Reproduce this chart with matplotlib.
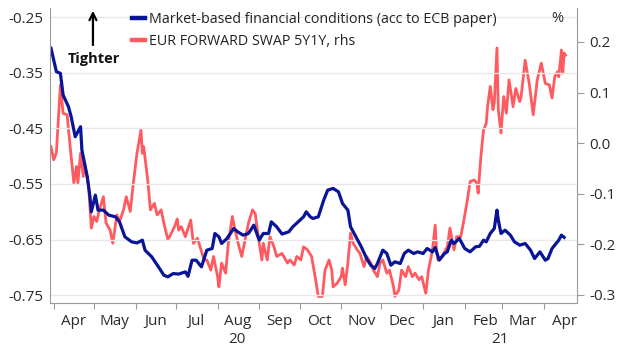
import pandas as pd
import matplotlib
matplotlib.use('Agg')
import matplotlib.pyplot as plt
import matplotlib.dates as mdates
from matplotlib.ticker import NullFormatter
from matplotlib.transforms import blended_transform_factory

plt.rcParams['font.family'] = ['Open Sans', 'DejaVu Sans']
plt.rcParams['axes.unicode_minus'] = False

# Market-based financial conditions (left axis)
fci_dates = ['2020-03-30', '2020-04-03', '2020-04-06', '2020-04-08', '2020-04-12', '2020-04-14', '2020-04-17', '2020-04-21', '2020-04-22', '2020-04-26',
             '2020-04-28', '2020-04-29', '2020-05-02', '2020-05-04', '2020-05-08', '2020-05-12', '2020-05-17', '2020-05-20', '2020-05-24', '2020-05-29',
             '2020-06-02', '2020-06-06', '2020-06-08', '2020-06-13', '2020-06-18', '2020-06-22', '2020-06-25', '2020-06-29', '2020-07-03', '2020-07-08',
             '2020-07-10', '2020-07-13', '2020-07-16', '2020-07-20', '2020-07-24', '2020-07-28', '2020-07-30', '2020-08-02', '2020-08-04', '2020-08-08',
             '2020-08-13', '2020-08-16', '2020-08-20', '2020-08-24', '2020-08-28', '2020-09-01', '2020-09-04', '2020-09-08', '2020-09-10', '2020-09-14',
             '2020-09-18', '2020-09-23', '2020-09-26', '2020-09-30', '2020-10-04', '2020-10-06', '2020-10-09', '2020-10-11', '2020-10-15', '2020-10-19',
             '2020-10-22', '2020-10-26', '2020-10-30', '2020-11-02', '2020-11-06', '2020-11-08', '2020-11-12', '2020-11-16', '2020-11-20', '2020-11-23',
             '2020-11-26', '2020-11-28', '2020-12-02', '2020-12-05', '2020-12-08', '2020-12-11', '2020-12-15', '2020-12-18', '2020-12-21', '2020-12-25',
             '2020-12-28', '2021-01-01', '2021-01-04', '2021-01-08', '2021-01-10', '2021-01-13', '2021-01-17', '2021-01-19', '2021-01-22', '2021-01-24',
             '2021-01-28', '2021-02-01', '2021-02-05', '2021-02-09', '2021-02-12', '2021-02-15', '2021-02-17', '2021-02-20', '2021-02-23', '2021-02-25',
             '2021-02-26', '2021-02-28', '2021-03-03', '2021-03-07', '2021-03-10', '2021-03-14', '2021-03-18', '2021-03-22', '2021-03-25', '2021-03-29',
             '2021-04-02', '2021-04-04', '2021-04-07', '2021-04-09', '2021-04-12', '2021-04-14', '2021-04-16']
fci_vals = [-0.306, -0.348, -0.351, -0.390, -0.411, -0.429, -0.465, -0.447, -0.489, -0.537,
            -0.573, -0.600, -0.570, -0.597, -0.597, -0.606, -0.609, -0.618, -0.645, -0.654,
            -0.656, -0.651, -0.669, -0.681, -0.699, -0.714, -0.717, -0.711, -0.712, -0.708,
            -0.716, -0.687, -0.687, -0.699, -0.669, -0.666, -0.639, -0.645, -0.657, -0.648,
            -0.630, -0.636, -0.642, -0.639, -0.624, -0.651, -0.639, -0.639, -0.618, -0.627,
            -0.640, -0.636, -0.627, -0.618, -0.609, -0.600, -0.609, -0.612, -0.609, -0.579,
            -0.561, -0.558, -0.564, -0.585, -0.597, -0.627, -0.645, -0.663, -0.684, -0.696,
            -0.702, -0.693, -0.669, -0.675, -0.696, -0.690, -0.693, -0.675, -0.669, -0.675,
            -0.672, -0.675, -0.666, -0.672, -0.664, -0.687, -0.675, -0.672, -0.651, -0.657,
            -0.648, -0.666, -0.672, -0.663, -0.662, -0.651, -0.654, -0.639, -0.630, -0.597,
            -0.615, -0.639, -0.633, -0.642, -0.654, -0.660, -0.657, -0.669, -0.684, -0.672,
            -0.687, -0.684, -0.666, -0.660, -0.651, -0.642, -0.646]

# EUR forward swap 5y1y (right axis, %)
swap_dates = ['2020-03-30', '2020-04-01', '2020-04-03', '2020-04-06', '2020-04-08', '2020-04-11', '2020-04-13', '2020-04-16', '2020-04-18', '2020-04-19',
              '2020-04-21', '2020-04-23', '2020-04-24', '2020-04-27', '2020-04-29', '2020-05-01', '2020-05-03', '2020-05-05', '2020-05-08', '2020-05-10',
              '2020-05-13', '2020-05-15', '2020-05-18', '2020-05-20', '2020-05-23', '2020-05-25', '2020-05-28', '2020-05-30', '2020-06-02', '2020-06-05',
              '2020-06-06', '2020-06-07', '2020-06-10', '2020-06-12', '2020-06-15', '2020-06-17', '2020-06-20', '2020-06-22', '2020-06-25', '2020-06-27',
              '2020-06-30', '2020-07-02', '2020-07-03', '2020-07-05', '2020-07-08', '2020-07-12', '2020-07-14', '2020-07-17', '2020-07-19', '2020-07-22',
              '2020-07-24', '2020-07-27', '2020-07-29', '2020-08-01', '2020-08-02', '2020-08-04', '2020-08-07', '2020-08-09', '2020-08-12', '2020-08-14',
              '2020-08-17', '2020-08-19', '2020-08-22', '2020-08-24', '2020-08-27', '2020-08-29', '2020-09-01', '2020-09-03', '2020-09-04', '2020-09-07',
              '2020-09-09', '2020-09-12', '2020-09-14', '2020-09-18', '2020-09-22', '2020-09-24', '2020-09-27', '2020-09-29', '2020-10-02', '2020-10-04',
              '2020-10-07', '2020-10-10', '2020-10-13', '2020-10-15', '2020-10-18', '2020-10-20', '2020-10-23', '2020-10-25', '2020-10-26', '2020-10-29',
              '2020-11-01', '2020-11-02', '2020-11-04', '2020-11-06', '2020-11-08', '2020-11-10', '2020-11-13', '2020-11-15', '2020-11-18', '2020-11-20',
              '2020-11-23', '2020-11-25', '2020-11-28', '2020-11-30', '2020-12-02', '2020-12-05', '2020-12-07', '2020-12-10', '2020-12-11', '2020-12-14',
              '2020-12-16', '2020-12-19', '2020-12-21', '2020-12-24', '2020-12-26', '2020-12-29', '2020-12-31', '2021-01-03', '2021-01-05', '2021-01-08',
              '2021-01-10', '2021-01-11', '2021-01-12', '2021-01-15', '2021-01-19', '2021-01-21', '2021-01-24', '2021-01-26', '2021-01-29', '2021-01-31',
              '2021-02-03', '2021-02-05', '2021-02-08', '2021-02-10', '2021-02-11', '2021-02-13', '2021-02-15', '2021-02-17', '2021-02-18', '2021-02-20',
              '2021-02-22', '2021-02-23', '2021-02-25', '2021-02-26', '2021-02-28', '2021-03-02', '2021-03-04', '2021-03-06', '2021-03-09', '2021-03-11',
              '2021-03-14', '2021-03-15', '2021-03-18', '2021-03-21', '2021-03-24', '2021-03-27', '2021-03-30', '2021-04-02', '2021-04-05', '2021-04-07',
              '2021-04-09', '2021-04-11', '2021-04-12', '2021-04-14', '2021-04-15', '2021-04-16', '2021-04-17']
swap_vals = [-0.007, -0.033, -0.019, 0.115, 0.059, 0.056, 0.000, -0.079, -0.046, -0.079,
             -0.020, -0.066, -0.040, -0.086, -0.168, -0.145, -0.155, -0.132, -0.106, -0.158,
             -0.172, -0.198, -0.142, -0.155, -0.132, -0.106, -0.135, -0.086, -0.020, 0.026,
             -0.020, -0.007, -0.073, -0.132, -0.119, -0.142, -0.132, -0.158, -0.191, -0.181,
             -0.165, -0.150, -0.172, -0.165, -0.185, -0.152, -0.198, -0.188, -0.205, -0.231,
             -0.231, -0.251, -0.224, -0.264, -0.284, -0.237, -0.257, -0.198, -0.145, -0.172,
             -0.205, -0.224, -0.185, -0.158, -0.132, -0.139, -0.198, -0.231, -0.198, -0.231,
             -0.185, -0.205, -0.224, -0.218, -0.237, -0.231, -0.241, -0.224, -0.231, -0.205,
             -0.211, -0.224, -0.270, -0.303, -0.303, -0.251, -0.231, -0.251, -0.284, -0.277,
             -0.264, -0.247, -0.280, -0.237, -0.178, -0.198, -0.211, -0.218, -0.244, -0.224,
             -0.237, -0.251, -0.264, -0.237, -0.231, -0.257, -0.251, -0.284, -0.303, -0.290,
             -0.251, -0.264, -0.244, -0.264, -0.257, -0.270, -0.264, -0.297, -0.251, -0.211,
             -0.162, -0.211, -0.231, -0.224, -0.205, -0.168, -0.211, -0.185, -0.185, -0.158,
             -0.112, -0.076, -0.073, -0.079, -0.099, -0.027, 0.026, 0.039, 0.072, 0.112,
             0.066, 0.079, 0.188, 0.066, 0.020, 0.092, 0.059, 0.125, 0.072, 0.108,
             0.082, 0.092, 0.164, 0.118, 0.056, 0.125, 0.158, 0.118, 0.115, 0.089,
             0.131, 0.141, 0.131, 0.184, 0.138, 0.178, 0.174]

left_ticks = [-0.75, -0.65, -0.55, -0.45, -0.35, -0.25]
right_ticks = [-0.3, -0.2, -0.1, 0.0, 0.1, 0.2]
labels = ['Market-based financial conditions (acc to ECB paper)', 'EUR FORWARD SWAP 5Y1Y, rhs']

blue = '#0a1496'
red = '#ff5a60'
txt = '#2b2b2b'
spine = '#9a9a9a'

fig = plt.figure(figsize=(6.2, 3.51), dpi=100)
ax = fig.add_axes([50 / 620, 1 - 303 / 351, 527 / 620, 295 / 351])
ax2 = ax.twinx()
ax.set_zorder(ax2.get_zorder() + 1)
ax.patch.set_visible(False)

l2, = ax2.plot(pd.to_datetime(swap_dates), swap_vals, color=red, lw=2.0)
l1, = ax.plot(pd.to_datetime(fci_dates), fci_vals, color=blue, lw=2.3)

x0 = pd.Timestamp('2020-03-29 06:00')
x1 = pd.Timestamp('2021-04-25 14:00')
ax.set_xlim(x0, x1)
ax.set_ylim(-0.764, -0.2335)
ax2.set_ylim(-0.316, 0.267)

ax.set_yticks(left_ticks)
ax.set_yticklabels(['%.2f' % v for v in left_ticks])
ax2.set_yticks(right_ticks)
ax2.set_yticklabels(['%.1f' % v for v in right_ticks])

ax.xaxis.set_major_locator(mdates.MonthLocator())
ax.xaxis.set_major_formatter(NullFormatter())
ax.xaxis.set_minor_locator(mdates.MonthLocator(bymonthday=16))
ax.xaxis.set_minor_formatter(mdates.DateFormatter('%b'))
ax.tick_params(axis='x', which='major', length=4, color=spine)
ax.tick_params(axis='x', which='minor', length=0, pad=8, labelsize=11, labelcolor=txt)
ax.tick_params(axis='y', length=0, labelsize=11, labelcolor=txt, pad=5)
ax2.tick_params(axis='y', length=5, color=spine, labelsize=11, labelcolor=txt, pad=4)

ax.grid(axis='y', color='#e8e8e8', lw=1)
ax.set_axisbelow(True)

for s in ['top', 'right']:
    ax.spines[s].set_visible(False)
for s in ['top', 'left', 'bottom']:
    ax2.spines[s].set_visible(False)
ax.spines['left'].set_color(spine)
ax.spines['bottom'].set_color(spine)
ax2.spines['right'].set_color(spine)

# year labels centred under the visible part of each year
trans = blended_transform_factory(ax.transData, ax.transAxes)
y2021 = pd.Timestamp('2021-01-01')
for a, b, yr in [(x0, y2021, '20'), (y2021, x1, '21')]:
    mid = mdates.date2num(a) + (mdates.date2num(b) - mdates.date2num(a)) / 2
    ax.text(mid, -0.125, yr, transform=trans, ha='center', va='center', fontsize=11, color=txt)

leg = ax.legend([l1, l2], labels, loc='upper left', bbox_to_anchor=(0.155, 0.985), frameon=False,
                fontsize=10.3, handlelength=0.95, handletextpad=0.25, labelspacing=0.45, borderpad=0,
                borderaxespad=0, labelcolor='#222222')
for h in leg.legend_handles:
    h.set_linewidth(3.2)

ax.text(0.963, 0.965, '%', transform=ax.transAxes, ha='center', va='center', fontsize=10.5, color=txt)
ax.text(0.083, 0.826, 'Tighter', transform=ax.transAxes, ha='center', va='center',
        fontsize=10.5, fontweight='bold', color='#111111')
ax.annotate('', xy=(0.0815, 1.0), xytext=(0.0815, 0.865), xycoords='axes fraction',
            arrowprops=dict(arrowstyle='->,head_length=0.5,head_width=0.25', color='black', lw=1.6))

fig.savefig('out.png', dpi=100)
